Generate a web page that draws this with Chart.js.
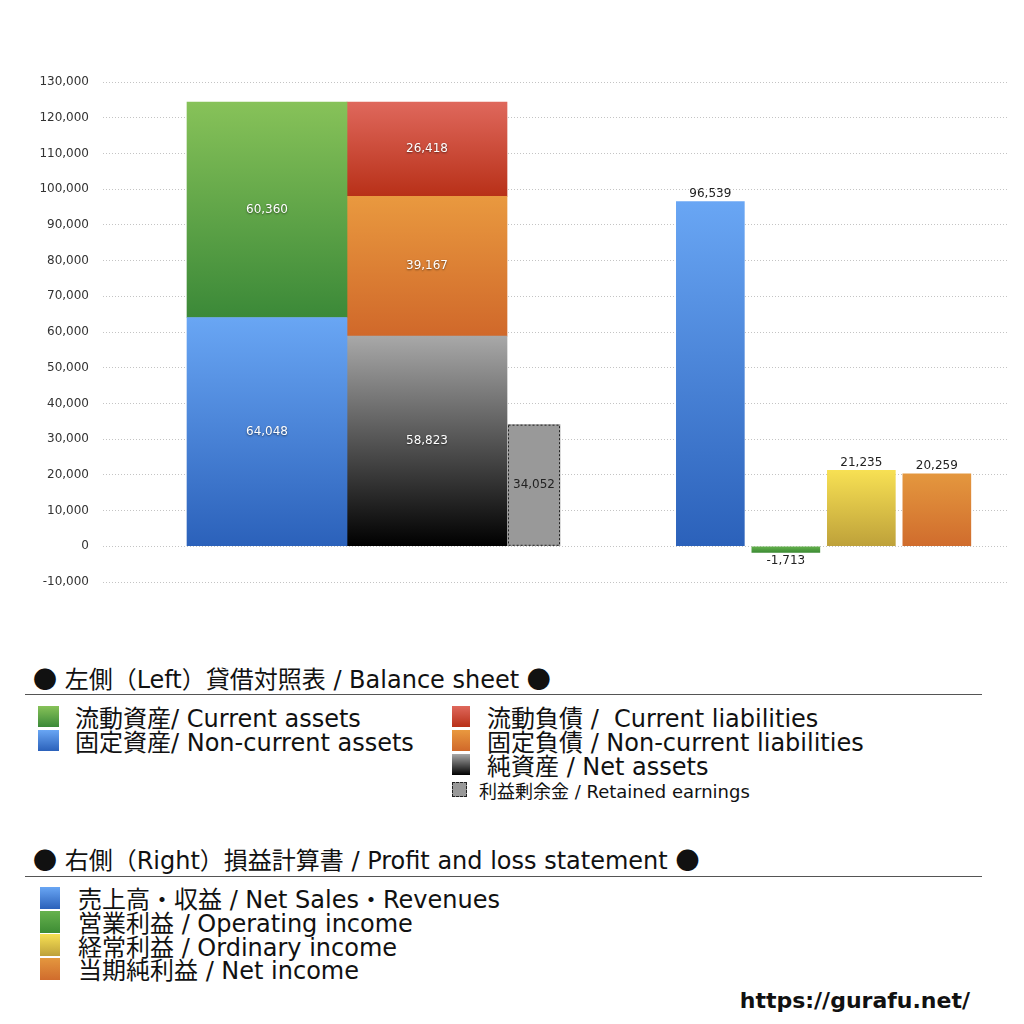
<!DOCTYPE html>
<html lang="ja">
<head>
<meta charset="utf-8">
<title>貸借対照表 / 損益計算書</title>
<script src="https://cdn.jsdelivr.net/npm/chart.js@4"></script>
<style>
  html, body { margin: 0; padding: 0; background: #fff; }
  body { width: 1024px; height: 1024px; position: relative; overflow: hidden;
    font-family: "DejaVu Sans", "Noto Sans CJK JP", sans-serif; color: #111; }
  .cjk { font-family: "Noto Sans CJK JP", sans-serif; }
  #chartBox { position: absolute; left: 0; top: 0; width: 1024px; height: 620px; }
  .title { position: absolute; left: 33px; font-size: 24px; line-height: 26px; white-space: nowrap; }
  .rule { position: absolute; left: 25px; width: 957px; height: 0; border-top: 1.5px solid #555; }
  .col { position: absolute; font-size: 24px; white-space: nowrap; }
  .row { display: flex; align-items: center; height: 24px; }
  .sw { width: 21px; height: 21px; margin-right: 16px; flex: none; }
  .small { font-size: 18px; height: 27px; }
  .small .sw { width: 13px; height: 13px; margin-right: 12px; background: #999; border: 1px dashed #222; }
  .pl .row { height: 23.7px; }
  .pl .sw { width: 20px; height: 22px; margin-right: 18px; }
  #url { position: absolute; right: 54px; top: 988px; font: bold 22px "DejaVu Sans", sans-serif; }
</style>
</head>
<body>
<div id="chartBox"><canvas id="bsplChart"></canvas></div>

<div class="title" style="top:665px"><span class="cjk">●</span> 左側（Left）貸借対照表 / Balance sheet <span class="cjk">●</span></div>
<div class="rule" style="top:694px"></div>
<div class="col" style="left:38px; top:704px">
  <div class="row"><span class="sw" style="background:linear-gradient(#87c259,#3b8938)"></span>流動資産/ Current assets</div>
  <div class="row"><span class="sw" style="background:linear-gradient(#69a6f4,#2b61ba)"></span>固定資産/ Non-current assets</div>
</div>
<div class="col" style="left:452px; top:704px">
  <div class="row"><span class="sw" style="width:18px; margin-right:17px; background:linear-gradient(#df685c,#b83018)"></span>流動負債 /&nbsp; Current liabilities</div>
  <div class="row"><span class="sw" style="width:18px; margin-right:17px; background:linear-gradient(#e9993f,#d0682a)"></span>固定負債 / Non-current liabilities</div>
  <div class="row"><span class="sw" style="width:18px; margin-right:17px; background:linear-gradient(#a8a8a8,#000)"></span>純資産 / Net assets</div>
  <div class="row small"><span class="sw"></span>利益剰余金 / Retained earnings</div>
</div>

<div class="title" style="top:846px"><span class="cjk">●</span> 右側（Right）損益計算書 / Profit and loss statement <span class="cjk">●</span></div>
<div class="rule" style="top:876px"></div>
<div class="col pl" style="left:40px; top:886px">
  <div class="row"><span class="sw" style="background:linear-gradient(#69a6f4,#2b61ba)"></span>売上高・収益 / Net Sales・Revenues</div>
  <div class="row"><span class="sw" style="background:linear-gradient(#66b24e,#3d8c34)"></span>営業利益 / Operating income</div>
  <div class="row"><span class="sw" style="background:linear-gradient(#f7e053,#bea13a)"></span>経常利益 / Ordinary income</div>
  <div class="row"><span class="sw" style="background:linear-gradient(#e4973e,#d06c2d)"></span>当期純利益 / Net income</div>
</div>

<div id="url">https://gurafu.net/</div>

<script>
// categories on the x axis: 0 = left (balance sheet), 1 = right (P/L)
const categories = ['貸借対照表', '損益計算書'];

// left: balance sheet, listed bottom -> top
const assetNames = ['固定資産', '流動資産'];
const assetValues = [64048, 60360];
const liabNames = ['純資産', '固定負債', '流動負債'];
const liabValues = [58823, 39167, 26418];
const retainedName = '利益剰余金';
const retainedValue = 34052;

// right: profit and loss
const plNames = ['売上高・収益', '営業利益', '経常利益', '当期純利益'];
const plValues = [96539, -1713, 21235, 20259];

// y axis ticks
const yMin = -10000, yMax = 130000, yStep = 10000;

const FONT = '"DejaVu Sans", sans-serif';
const assetColors = [['#69a6f4', '#2b61ba'], ['#87c259', '#3b8938']];
const liabColors = [['#a8a8a8', '#000000'], ['#e9993f', '#d0682a'], ['#df685c', '#b83018']];
const plColors = [['#69a6f4', '#2b61ba'], ['#66b24e', '#3d8c34'], ['#f7e053', '#bea13a'], ['#e4973e', '#d06c2d']];

// vertical gradient between two values of the y scale
function vGrad(c1, c2, top, bottom) {
  return (ctx) => {
    const y = ctx.chart.scales.y;
    if (!y) return c2;
    const p1 = y.getPixelForValue(top), p2 = y.getPixelForValue(bottom);
    if (!isFinite(p1) || !isFinite(p2) || p1 === p2) return c2;
    const g = ctx.chart.ctx.createLinearGradient(0, p1, 0, p2);
    g.addColorStop(0, c1);
    g.addColorStop(1, c2);
    return g;
  };
}

// one point per category, null where the series does not belong
const pointsFor = (cat, v) => categories.map((_, i) => ({ x: i, y: i === cat ? v : null }));

const datasets = [];
let base = 0;
assetNames.forEach((name, i) => {
  const v = assetValues[i];
  datasets.push({ label: name, stack: 'assets', data: pointsFor(0, v),
    backgroundColor: vGrad(assetColors[i][0], assetColors[i][1], base + v, base),
    barThickness: 160, maxBarThickness: 160, labelPos: 'inside' });
  base += v;
});
base = 0;
liabNames.forEach((name, i) => {
  const v = liabValues[i];
  datasets.push({ label: name, stack: 'liab', data: pointsFor(0, v),
    backgroundColor: vGrad(liabColors[i][0], liabColors[i][1], base + v, base),
    barThickness: 160, maxBarThickness: 160, labelPos: 'inside' });
  base += v;
});
datasets.push({ label: retainedName, stack: 'retained', data: pointsFor(0, retainedValue),
  backgroundColor: '#999999', barThickness: 107, maxBarThickness: 52,
  labelPos: 'insideDark', dashed: true });
plNames.forEach((name, i) => {
  const v = plValues[i];
  datasets.push({ label: name, stack: 'pl' + i, data: pointsFor(1, v),
    backgroundColor: vGrad(plColors[i][0], plColors[i][1], Math.max(v, 0), Math.min(v, 0)),
    barThickness: 75.5, maxBarThickness: 68, labelPos: 'outside' });
});

const fmt = v => v.toLocaleString('en-US');

const valueLabels = {
  id: 'valueLabels',
  afterDatasetsDraw(chart) {
    const ctx = chart.ctx;
    chart.data.datasets.forEach((ds, di) => {
      const meta = chart.getDatasetMeta(di);
      meta.data.forEach((bar, i) => {
        const v = ds.data[i].y;
        if (v === null) return;
        const left = bar.x - bar.width / 2;
        ctx.save();
        if (ds.dashed) {
          ctx.strokeStyle = '#222';
          ctx.lineWidth = 1;
          ctx.setLineDash([2, 2]);
          ctx.strokeRect(left + 0.5, bar.y + 0.5, bar.width - 1, bar.base - bar.y - 1);
          ctx.setLineDash([]);
        }
        ctx.font = '12px ' + FONT;
        ctx.textAlign = 'center';
        ctx.textBaseline = 'middle';
        if (ds.labelPos === 'inside') {
          ctx.fillStyle = '#fff';
          ctx.shadowColor = 'rgba(0,0,0,0.55)';
          ctx.shadowBlur = 2;
          ctx.shadowOffsetY = 1;
          ctx.fillText(fmt(v), bar.x, (bar.y + bar.base) / 2);
        } else if (ds.labelPos === 'insideDark') {
          ctx.fillStyle = '#222';
          ctx.fillText(fmt(v), bar.x, (bar.y + bar.base) / 2);
        } else {
          ctx.fillStyle = '#222';
          const top = Math.min(bar.y, bar.base), bottom = Math.max(bar.y, bar.base);
          ctx.fillText(fmt(v), bar.x, v >= 0 ? top - 8 : bottom + 8);
        }
        ctx.restore();
      });
    });
  }
};

new Chart(document.getElementById('bsplChart'), {
  type: 'bar',
  data: { datasets },
  plugins: [valueLabels],
  options: {
    responsive: true,
    maintainAspectRatio: false,
    animation: false,
    layout: { padding: { top: 82, right: 16, bottom: 38, left: 0 } },
    datasets: { bar: { grouped: true, skipNull: true, borderWidth: 0 } },
    plugins: { legend: { display: false }, tooltip: { enabled: false } },
    scales: {
      // category index axis; range set so the left group centres at 427px, the right at 823px
      x: { type: 'linear', display: false, offset: false, bounds: 'data', min: -0.817, max: 1.465 },
      y: {
        stacked: true, min: yMin, max: yMax,
        ticks: { stepSize: yStep, callback: v => fmt(v), color: '#333', padding: 14,
          font: { size: 12, family: FONT } },
        grid: { color: '#c4c4c4', drawTicks: false },
        border: { display: false, dash: [1, 2] },
        afterFit: s => { s.width = 103; }
      }
    }
  }
});
</script>
</body>
</html>
